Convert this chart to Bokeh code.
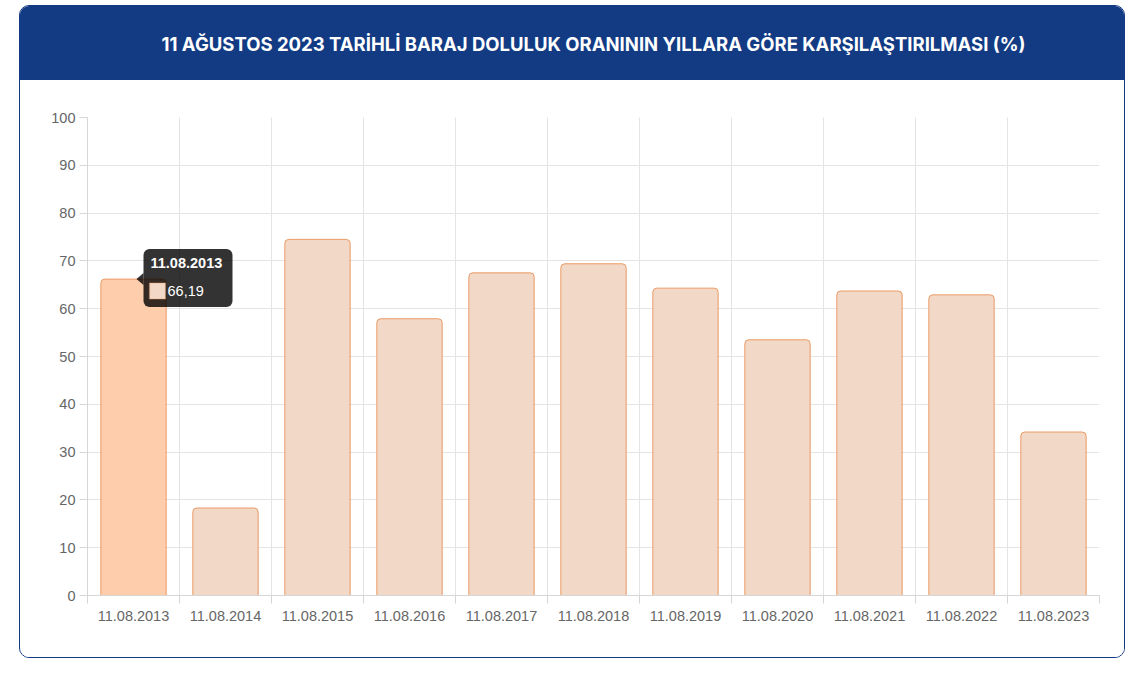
from bokeh.plotting import figure
from bokeh.layouts import column
from bokeh.models import FixedTicker, BoxAnnotation, Label, Range1d
from bokeh.embed import file_html
from bokeh.resources import INLINE
from bokeh.core.properties import value

# ---------------- data ----------------
title_text = "11 AĞUSTOS 2023 TARİHLİ BARAJ DOLULUK ORANININ YILLARA GÖRE KARŞILAŞTIRILMASI (%)"
dates = ["11.08.2013", "11.08.2014", "11.08.2015", "11.08.2016", "11.08.2017", "11.08.2018",
         "11.08.2019", "11.08.2020", "11.08.2021", "11.08.2022", "11.08.2023"]
ratios = [66.19, 18.3, 74.5, 57.9, 67.5, 69.4, 64.3, 53.5, 63.7, 62.9, 34.2]
y_ticks = list(range(0, 101, 10))
highlight_index = 0

# ---------------- style ----------------
NAVY = "#123b84"
FILL = "#f2d8c6"
FILL_HI = "#fdcdac"
EDGE = "#ec9a66"
GRID = "#e4e4e4"
AXIS = "#d6d6d6"
TICK_TXT = "#666666"
FONT = "Liberation Sans"

CARD_W = 1104
HEAD_H = 74
CHART_H = 577
ML, MR, MT, MB = 67, 25, 37, 62
FRAME_W = CARD_W - ML - MR
FRAME_H = CHART_H - MT - MB

n = len(dates)
xs = [i + 0.5 for i in range(n)]

# ---------------- header ----------------
head = figure(width=CARD_W, height=HEAD_H, x_range=Range1d(0, 1), y_range=Range1d(0, 1),
              toolbar_location=None, output_backend="svg", min_border=0,
              styles={"background-color": NAVY})
head.axis.visible = False
head.grid.visible = False
head.outline_line_color = None
head.background_fill_color = None
head.border_fill_color = None
head.text(x=[0.5], y=[0.5], text=[title_text], text_align="center", text_baseline="middle",
          text_color="white", text_font=value("Inter"), text_font_style="bold",
          text_font_size="18.5px")

# ---------------- chart ----------------
p = figure(width=CARD_W, height=CHART_H, x_range=Range1d(0, n), y_range=Range1d(0, 100),
           toolbar_location=None, output_backend="svg",
           min_border_left=ML, min_border_right=MR, min_border_top=MT, min_border_bottom=MB)
p.outline_line_color = None
p.background_fill_color = "white"
p.border_fill_color = "white"

fills = [FILL_HI if i == highlight_index else FILL for i in range(n)]
p.vbar(x=xs, top=ratios, bottom=0, width=0.71, fill_color=fills, line_color=EDGE,
       line_width=1, border_radius=(4, 4, 0, 0))

# x axis: labels at centers, small ticks at boundaries
p.xaxis.ticker = FixedTicker(ticks=xs, minor_ticks=list(range(n + 1)))
p.xaxis.major_label_overrides = {x: d for x, d in zip(xs, dates)}
p.xaxis.major_tick_out = 0
p.xaxis.major_tick_in = 0
p.xaxis.minor_tick_out = 8
p.xaxis.minor_tick_in = 0
p.xaxis.minor_tick_line_color = AXIS
p.xaxis.major_label_standoff = 7
p.xgrid.ticker = FixedTicker(ticks=list(range(n + 1)))

# y axis
p.yaxis.ticker = FixedTicker(ticks=y_ticks)
p.yaxis.major_tick_out = 8
p.yaxis.major_tick_in = 0
p.yaxis.minor_tick_line_color = None
p.yaxis.major_tick_line_color = AXIS
p.yaxis.major_label_standoff = 4

for ax in (p.xaxis, p.yaxis):
    ax.axis_line_color = AXIS
    ax.major_label_text_color = TICK_TXT
    ax.major_label_text_font = FONT
    ax.major_label_text_font_size = "14.5px"
p.grid.grid_line_color = GRID

# ---------------- tooltip for the highlighted bar ----------------
def dx(px):
    return px * n / FRAME_W

def dy(px):
    return px * 100.0 / FRAME_H

tip_x = xs[highlight_index] + dx(3)
tip_y = ratios[highlight_index]
left = tip_x + dx(7)
right = left + dx(89)
top = tip_y + dy(30)
bottom = top - dy(58)
TT = "#000000"
p.add_layout(BoxAnnotation(left=left, right=right, top=top, bottom=bottom,
                           fill_color=TT, fill_alpha=0.8, line_color=None, border_radius=6))
p.patch(x=[tip_x, left, left], y=[tip_y, tip_y + dy(6), tip_y - dy(6)],
        fill_color=TT, fill_alpha=0.8, line_color=None)
p.add_layout(Label(x=left + dx(7), y=top - dy(9), text=dates[highlight_index],
                   text_baseline="top", text_color="white", text_font=FONT,
                   text_font_style="bold", text_font_size="14.5px"))
p.add_layout(BoxAnnotation(left=left + dx(6), right=left + dx(22), top=top - dy(34),
                           bottom=top - dy(50), fill_color=FILL, fill_alpha=1,
                           line_color=EDGE, line_width=1.5))
val_txt = f"{ratios[highlight_index]:.2f}".replace(".", ",")
p.add_layout(Label(x=left + dx(24), y=top - dy(42), text=val_txt,
                   text_baseline="middle", text_color="white", text_font=FONT,
                   text_font_size="14.5px"))

layout = column(head, p, spacing=0,
                styles={"border": f"1px solid {NAVY}", "border-radius": "10px",
                        "overflow": "hidden", "margin-left": "19px", "margin-top": "5px"})

with open("out.html", "w") as f:
    f.write(file_html(layout, INLINE))
